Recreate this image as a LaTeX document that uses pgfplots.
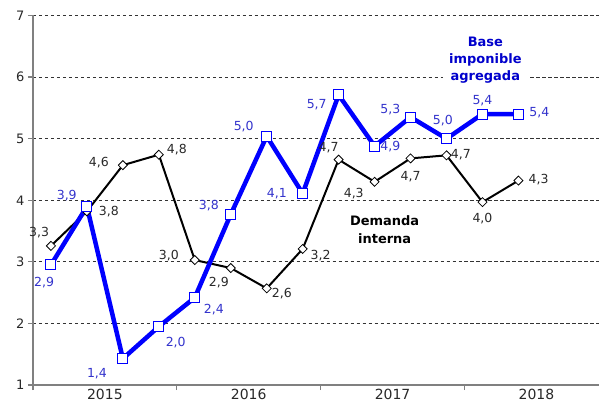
\documentclass[border=0pt]{standalone}
\usepackage{pgfplots}
\pgfplotsset{compat=1.18}
\usepackage{fontspec}
\setmainfont{DejaVu Sans}
\definecolor{lblue}{RGB}{51,51,204}
\definecolor{lblack}{RGB}{40,40,40}
\definecolor{axgray}{RGB}{128,128,128}
\begin{document}
\begin{tikzpicture}
\begin{axis}[
  scale only axis, width=567pt, height=370pt,
  xmin=-0.5, xmax=15.25, ymin=1, ymax=7,
  axis x line*=bottom, axis y line*=left,
  axis line style={axgray, line width=1.3pt},
  ytick={1,2,3,4,5,6,7},
  ymajorgrids,
  grid style={black!80, dash pattern=on 3.5pt off 2.5pt, line width=0.8pt},
  xtick={-0.5,3.5,7.5,11.5},
  xticklabels={},
  extra x ticks={1.5,5.5,9.5,13.5},
  extra x tick labels={2015,2016,2017,2018},
  extra x tick style={major tick length=0pt, grid=none},
  tick align=outside,
  major tick length=5pt,
  tick style={axgray, line width=1.2pt},
  yticklabel style={font=\fontsize{13}{15}\selectfont, text=lblack},
  xticklabel style={font=\fontsize{14}{16}\selectfont, text=lblack, yshift=-0.5pt},
  /pgf/number format/assume math mode=true,
  clip=false,
]
\addplot[black, line width=2pt, mark=square*, mark size=3.2pt,
  mark options={fill=white, draw=black, line width=0.8pt, rotate=45}]
  coordinates {(0,3.26)(1,3.82)(2,4.57)(3,4.74)(4,3.03)(5,2.90)(6,2.57)(7,3.21)(8,4.66)(9,4.30)(10,4.68)(11,4.73)(12,3.97)(13,4.32)};
\addplot[blue, line width=4.5pt, mark=square*, mark size=5pt,
  mark options={fill=white, draw=blue, line width=1pt}]
  coordinates {(0,2.95)(1,3.90)(2,1.43)(3,1.95)(4,2.42)(5,3.77)(6,5.04)(7,4.11)(8,5.71)(9,4.88)(10,5.35)(11,5.00)(12,5.40)(13,5.40)};
\tikzset{lb/.style={text=lblue, font=\fontsize{12.5}{14}\selectfont, inner sep=0pt},
         lk/.style={text=lblack, font=\fontsize{12.5}{14}\selectfont, inner sep=0pt}}
% blue labels
\node[lb] at (axis cs:-0.19,2.66) {2,9};
\node[lb] at (axis cs:0.44,4.08) {3,9};
\node[lb] at (axis cs:1.28,1.18) {1,4};
\node[lb] at (axis cs:3.47,1.69) {2,0};
\node[lb] at (axis cs:4.53,2.23) {2,4};
\node[lb] at (axis cs:4.39,3.92) {3,8};
\node[lb] at (axis cs:5.36,5.20) {5,0};
\node[lb] at (axis cs:6.28,4.11) {4,1};
\node[lb] at (axis cs:7.39,5.56) {5,7};
\node[lb] at (axis cs:9.44,4.87) {4,9};
\node[lb] at (axis cs:9.44,5.48) {5,3};
\node[lb] at (axis cs:10.9,5.30) {5,0};
\node[lb] at (axis cs:12.0,5.62) {5,4};
\node[lb] at (axis cs:13.58,5.43) {5,4};
% black labels
\node[lk] at (axis cs:-0.33,3.48) {3,3};
\node[lk] at (axis cs:1.61,3.82) {3,8};
\node[lk] at (axis cs:1.33,4.61) {4,6};
\node[lk] at (axis cs:3.5,4.82) {4,8};
\node[lk] at (axis cs:3.28,3.10) {3,0};
\node[lk] at (axis cs:4.67,2.66) {2,9};
\node[lk] at (axis cs:6.42,2.48) {2,6};
\node[lk] at (axis cs:7.5,3.11) {3,2};
\node[lk] at (axis cs:7.72,4.85) {4,7};
\node[lk] at (axis cs:8.42,4.11) {4,3};
\node[lk] at (axis cs:10.0,4.39) {4,7};
\node[lk] at (axis cs:11.4,4.74) {4,7};
\node[lk] at (axis cs:12.0,3.70) {4,0};
\node[lk] at (axis cs:13.56,4.34) {4,3};
% annotations
\node[fill=white, text=blue!80!black, font=\bfseries\fontsize{13}{17}\selectfont, align=center, inner xsep=6pt, inner ysep=1pt]
  at (axis cs:12.08,6.28) {Base\\imponible\\agregada};
\node[text=black, font=\bfseries\fontsize{13}{18}\selectfont, align=center, inner sep=1pt]
  at (axis cs:9.28,3.52) {Demanda\\interna};
\end{axis}
\path[use as bounding box] (-33pt,-24.5pt) rectangle (567pt,385.5pt);
\end{tikzpicture}
\end{document}
